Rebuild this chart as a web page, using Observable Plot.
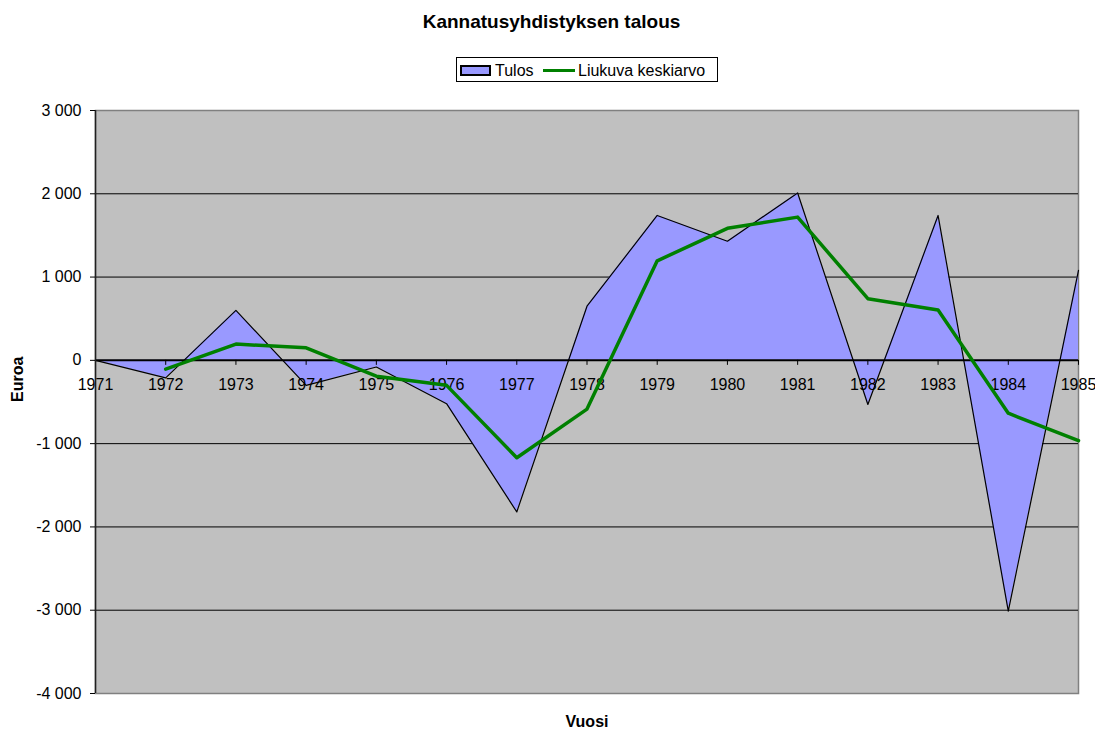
<!DOCTYPE html>
<html>
<head>
<meta charset="utf-8">
<script src="https://cdn.jsdelivr.net/npm/d3@7"></script>
<script src="https://cdn.jsdelivr.net/npm/@observablehq/plot@0.6"></script>
<style>
  html, body { margin: 0; padding: 0; background: white; }
  body { width: 1095px; height: 729px; overflow: hidden; font-family: "Liberation Sans", Arial, sans-serif; }
  #header { position: relative; width: 1095px; height: 95px; }
  #title { position: absolute; left: 4px; width: 1095px; top: 12px; text-align: center; font-weight: bold; font-size: 19px; line-height: 19px; }
  #legend { position: absolute; left: 456px; top: 57px; width: 260px; height: 23px; border: 1px solid #000; background: white; }
  .sw-area { position: absolute; left: 3px; top: 7px; width: 27px; height: 7px; background: #9999FF; border: 2px solid #000; }
  .sw-line { position: absolute; left: 86px; top: 11px; width: 32px; height: 3px; background: #008000; }
  .lt { position: absolute; top: 5px; font-size: 16px; line-height: 16px; white-space: nowrap; }
  #chart svg { display: block; }
</style>
</head>
<body>
<div id="header">
  <div id="title">Kannatusyhdistyksen talous</div>
  <div id="legend">
    <div class="sw-area"></div><div class="lt" style="left:38px">Tulos</div>
    <div class="sw-line"></div><div class="lt" style="left:121px">Liukuva keskiarvo</div>
  </div>
</div>
<div id="chart"></div>
<script>
// Data
const years = [1971, 1972, 1973, 1974, 1975, 1976, 1977, 1978, 1979, 1980, 1981, 1982, 1983, 1984, 1985];
const tulos = [0, -210, 600, -300, -80, -520, -1820, 650, 1740, 1430, 2010, -530, 1740, -3010, 1080];
const avgYears = [1972, 1973, 1974, 1975, 1976, 1977, 1978, 1979, 1980, 1981, 1982, 1983, 1984, 1985];
const keskiarvo = [-105, 195, 150, -190, -300, -1170, -585, 1195, 1585, 1720, 740, 605, -635, -965];
const yTicks = [-4000, -3000, -2000, -1000, 0, 1000, 2000, 3000];
const gridTicks = [-3000, -2000, -1000, 1000, 2000];
const yLabel = "Euroa";
const xLabel = "Vuosi";

const tulosData = years.map((y, i) => ({year: y, value: tulos[i]}));
const avgData = avgYears.map((y, i) => ({year: y, value: keskiarvo[i]}));

const fi = d3.formatLocale({decimal: ",", thousands: " ", grouping: [3], currency: ["", ""], minus: "-"});
const fmt = fi.format(",");

const chart = Plot.plot({
  width: 1095,
  height: 634,
  marginTop: 15,
  marginBottom: 36,
  marginLeft: 95,
  marginRight: 17,
  style: {fontFamily: "'Liberation Sans', Arial, sans-serif", fontSize: "16px", background: "white", color: "black", overflow: "visible"},
  x: {domain: [1971, 1985], axis: null},
  y: {domain: [-4000, 3000], axis: null},
  marks: [
    Plot.frame({fill: "#C0C0C0", stroke: "#808080", strokeWidth: 1.5}),
    Plot.ruleY(gridTicks, {stroke: "black", strokeWidth: 1}),
    Plot.areaY(tulosData, {x: "year", y: "value", fill: "#9999FF", curve: "linear"}),
    Plot.text(years, {x: d => d, y: () => 0, text: d => String(d), dy: 25, fontSize: 16, fill: "black"}),
    Plot.lineY(tulosData, {x: "year", y: "value", stroke: "black", strokeWidth: 1.2, curve: "linear"}),
    Plot.ruleY([0], {stroke: "black", strokeWidth: 2}),
    Plot.ruleX(years, {x: d => d, y1: () => 0, y2: () => 0, insetBottom: -5, stroke: "black", strokeWidth: 1}),
    Plot.ruleX([1971], {stroke: "#202020", strokeWidth: 1.5}),
    Plot.axisY({ticks: yTicks, tickSize: 5, tickPadding: 9, tickFormat: fmt, label: null, fill: "black", stroke: "black"}),
    Plot.lineY(avgData, {x: "year", y: "value", stroke: "#008000", strokeWidth: 3.5, curve: "linear"}),
    Plot.text([yLabel], {frameAnchor: "left", dx: -78, rotate: -90, fontWeight: "bold", fontSize: 16, fill: "black"}),
    Plot.text([xLabel], {frameAnchor: "bottom", dy: 33, fontWeight: "bold", fontSize: 16, fill: "black"})
  ]
});
document.getElementById("chart").appendChild(chart);
</script>
</body>
</html>
